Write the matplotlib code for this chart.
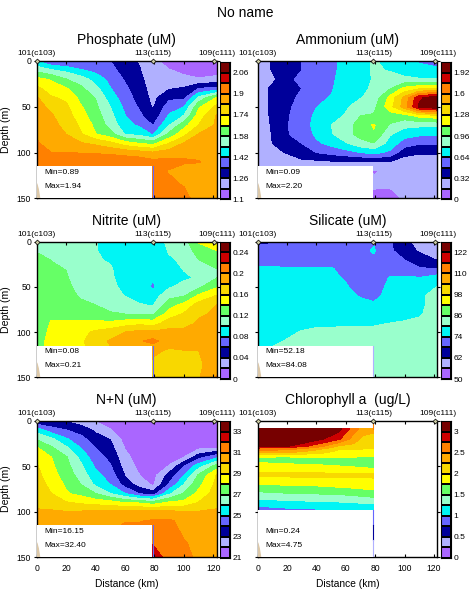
import matplotlib
matplotlib.use("Agg")
import matplotlib.pyplot as plt
import numpy as np
from matplotlib.patches import Rectangle

plt.rcParams["font.family"] = ["Liberation Sans", "DejaVu Sans"]

W, H = 473, 604

colors = ["#AA66FF", "#B0B0FF", "#00009A", "#6666FF", "#00F5F5", "#99FFCC", "#66FF66",
          "#FFFF00", "#F8D800", "#FFAA00", "#FF8000", "#CC0000", "#770000"]

stations = ["101(c103)", "113(c115)", "109(c111)"]
station_km = [0, 78.8, 120.5]
station_label_km = [0, 79, 122.6]

km = [0, 10, 20, 30, 40, 50, 60, 70, 79, 90, 100, 110, 122.5]
depth = [0, 10, 20, 30, 40, 50, 60, 70, 80, 90, 100, 110, 120, 135, 150]

# Each inner list is one distance, top to bottom, in colour band units
# (value = first level + step * band)

phosphate = [
    [4.0, 5.7, 7.3, 8.3, 9.1, 9.3, 9.4, 9.6, 9.9, 10.1, 10.2, 10.3, 10.3, 10.3, 10.3],
    [3.0, 5.1, 6.9, 7.4, 8.1, 8.8, 9.1, 9.2, 9.4, 9.6, 10.0, 10.4, 10.4, 10.4, 10.4],
    [2.9, 4.7, 6.05, 7.1, 7.8, 8.2, 8.5, 8.8, 9.0, 9.5, 10.0, 10.6, 10.6, 10.6, 10.6],
    [2.9, 4.1, 5.5, 6.2, 6.7, 7.1, 7.4, 7.8, 8.1, 9.1, 9.95, 10.7, 10.7, 10.7, 10.7],
    [3.0, 3.7, 4.6, 5.3, 5.95, 6.2, 6.5, 6.75, 7.05, 8.8, 9.9, 10.7, 10.7, 10.7, 10.7],
    [3.0, 3.3, 3.7, 4.05, 4.5, 5.0, 5.3, 5.6, 6.4, 8.3, 9.8, 10.7, 10.7, 10.7, 10.7],
    [2.4, 2.6, 2.9, 3.2, 3.45, 3.75, 4.05, 4.4, 4.95, 7.5, 9.6, 10.7, 10.7, 10.7, 10.7],
    [1.9, 2.05, 2.2, 2.4, 2.6, 2.85, 3.2, 3.8, 4.7, 7.0, 9.4, 10.6, 10.6, 10.6, 10.6],
    [1.3, 1.4, 1.5, 1.6, 1.7, 1.9, 2.3, 2.95, 3.9, 6.7, 9.1, 10.3, 10.2, 10.1, 10.2],
    [0.5, 1.05, 1.45, 1.9, 2.8, 3.5, 4.15, 4.95, 6.3, 8.0, 9.5, 10.3, 9.95, 10.15, 10.4],
    [0.3, 0.8, 1.2, 2.1, 2.75, 4.0, 5.05, 6.6, 7.7, 9.1, 9.8, 10.1, 9.7, 9.95, 10.3],
    [0.2, 0.5, 1.1, 3.0, 5.2, 6.8, 7.5, 8.0, 9.05, 9.4, 9.7, 10.05, 9.6, 9.5, 9.6],
    [0.2, 0.55, 1.3, 3.3, 7.1, 8.3, 9.1, 9.2, 9.3, 9.4, 9.5, 9.6, 9.5, 9.4, 9.4],
]

ammonium = [
    [1.5, 1.5, 1.5, 1.5, 1.5, 1.5, 1.5, 1.4, 1.4, 1.4, 1.3, 1.3, 1.2, 1.2, 1.2],
    [2.1, 2.05, 1.8, 2.2, 2.2, 2.2, 2.15, 2.1, 2.05, 2.0, 1.8, 1.5, 1.3, 1.2, 1.2],
    [2.6, 2.6, 2.7, 2.6, 2.7, 2.8, 2.9, 2.95, 2.95, 2.5, 2.05, 1.6, 1.4, 1.3, 1.2],
    [3.0, 3.0, 3.3, 3.0, 3.2, 3.4, 3.5, 3.4, 3.3, 3.0, 2.5, 1.8, 1.4, 1.3, 1.2],
    [3.5, 3.5, 3.5, 3.6, 3.8, 3.98, 4.2, 4.4, 4.2, 3.8, 3.0, 1.8, 1.3, 1.3, 1.2],
    [3.8, 3.8, 3.85, 3.9, 4.05, 4.3, 4.6, 5.0, 4.9, 4.3, 3.3, 1.9, 1.3, 1.3, 1.2],
    [4.3, 4.3, 4.4, 4.5, 4.7, 4.85, 5.1, 5.6, 5.6, 4.9, 3.6, 1.9, 1.3, 1.3, 1.2],
    [4.7, 4.7, 4.75, 4.85, 4.95, 5.5, 6.0, 6.4, 6.4, 5.6, 4.0, 1.9, 1.3, 1.2, 1.1],
    [5.1, 5.1, 5.05, 5.1, 5.3, 5.7, 6.1, 7.1, 6.9, 5.95, 4.3, 1.9, 0.95, 1.1, 0.8],
    [4.7, 4.95, 5.3, 5.9, 7.3, 7.6, 6.5, 5.9, 5.1, 4.6, 3.8, 1.95, 1.1, 1.05, 0.85],
    [4.2, 4.6, 5.2, 7.3, 9.3, 9.5, 6.5, 5.3, 4.4, 3.5, 2.3, 1.6, 1.3, 1.2, 1.05],
    [3.9, 4.3, 5.1, 7.8, 11.8, 12.2, 7.3, 5.2, 4.2, 3.1, 2.1, 1.5, 1.3, 1.3, 1.3],
    [3.6, 4.2, 5.05, 8.0, 12.7, 12.9, 7.6, 5.2, 4.1, 3.1, 2.2, 1.4, 1.3, 1.3, 1.3],
]

nitrite = [
    [5.6, 5.95, 6.2, 6.2, 6.2, 6.2, 6.2, 6.2, 6.2, 6.2, 6.3, 6.5, 6.6, 6.6, 6.6],
    [5.5, 5.7, 5.98, 6.1, 6.2, 6.3, 6.4, 6.6, 6.8, 7.1, 7.3, 7.4, 7.4, 7.4, 7.4],
    [5.3, 5.5, 5.75, 5.98, 6.1, 6.2, 6.3, 6.5, 6.8, 7.1, 7.4, 7.6, 7.6, 7.6, 7.6],
    [5.1, 5.1, 5.2, 5.3, 5.45, 5.7, 5.9, 6.2, 6.6, 7.2, 7.7, 7.8, 7.7, 7.7, 7.7],
    [5.05, 5.05, 5.1, 5.2, 5.3, 5.5, 5.75, 6.0, 6.5, 7.2, 8.2, 8.6, 8.5, 8.5, 8.5],
    [4.5, 4.7, 4.9, 5.1, 5.15, 5.25, 5.4, 5.7, 6.1, 7.2, 8.5, 9.1, 8.9, 8.9, 8.9],
    [4.3, 4.3, 4.4, 4.5, 4.6, 4.75, 4.97, 5.5, 6.0, 7.5, 9.0, 9.6, 9.4, 9.4, 9.4],
    [4.3, 4.2, 4.3, 4.35, 4.4, 4.55, 4.75, 5.05, 6.0, 7.7, 9.3, 9.9, 9.7, 9.7, 9.7],
    [4.3, 4.2, 4.15, 4.1, 4.05, 3.85, 4.5, 4.95, 5.9, 7.5, 9.2, 10.3, 9.2, 8.8, 8.6],
    [5.3, 5.1, 4.85, 4.6, 4.5, 4.9, 5.7, 6.6, 7.5, 8.5, 9.3, 9.4, 8.9, 8.1, 8.4],
    [5.6, 5.4, 5.2, 5.05, 4.85, 5.3, 5.95, 7.3, 8.1, 8.7, 9.2, 9.3, 9.0, 8.6, 8.5],
    [7.1, 6.4, 6.0, 5.5, 5.1, 5.8, 7.2, 8.4, 8.9, 9.1, 9.2, 9.2, 9.0, 8.9, 8.9],
    [8.0, 7.0, 6.5, 6.0, 6.0, 6.9, 8.1, 9.0, 9.1, 9.3, 9.3, 9.4, 9.3, 9.3, 10.1],
]

silicate = [
    [2.8, 3.3, 3.7, 4.1, 4.3, 4.4, 4.4, 4.5, 4.5, 4.6, 4.7, 4.8, 4.9, 4.9, 4.9],
    [2.9, 3.4, 3.7, 4.1, 4.2, 4.3, 4.4, 4.5, 4.5, 4.6, 4.7, 4.85, 5.1, 5.1, 5.1],
    [3.0, 3.4, 3.7, 4.05, 4.2, 4.3, 4.4, 4.5, 4.6, 4.7, 4.85, 5.05, 5.2, 5.2, 5.2],
    [3.0, 3.4, 3.7, 4.05, 4.2, 4.3, 4.4, 4.5, 4.6, 4.75, 5.05, 5.2, 5.2, 5.2, 5.2],
    [3.1, 3.4, 3.7, 4.05, 4.15, 4.25, 4.35, 4.5, 4.7, 4.95, 5.05, 5.2, 5.2, 5.2, 5.2],
    [3.2, 3.4, 3.7, 4.05, 4.1, 4.2, 4.3, 4.45, 4.65, 4.9, 5.1, 5.2, 5.2, 5.2, 5.2],
    [3.3, 3.4, 3.6, 3.8, 3.95, 4.05, 4.2, 4.4, 4.6, 4.95, 5.1, 5.2, 5.2, 5.2, 5.2],
    [3.4, 3.7, 3.5, 3.6, 3.7, 3.8, 3.95, 4.2, 4.5, 4.9, 5.15, 5.2, 5.2, 5.2, 5.2],
    [3.9, 4.1, 3.8, 3.6, 3.5, 3.6, 3.75, 4.15, 4.5, 4.9, 5.2, 5.2, 5.2, 5.2, 5.2],
    [3.1, 3.2, 3.4, 3.7, 4.05, 4.2, 4.3, 4.45, 4.6, 5.0, 5.2, 5.2, 5.2, 5.2, 5.2],
    [2.2, 2.4, 3.0, 3.6, 4.1, 4.25, 4.4, 4.55, 4.7, 5.1, 5.2, 5.2, 5.2, 5.2, 5.2],
    [1.7, 1.9, 2.4, 3.1, 4.05, 4.2, 4.9, 4.9, 4.95, 5.1, 5.2, 5.2, 5.2, 5.2, 5.2],
    [0.9, 1.3, 1.95, 3.0, 4.5, 5.05, 5.2, 5.2, 5.2, 5.2, 5.2, 5.2, 5.2, 5.2, 5.2],
]

nn = [
    [2.0, 4.5, 5.9, 7.1, 7.7, 8.1, 8.3, 8.5, 8.7, 8.9, 9.05, 9.2, 9.3, 9.3, 9.3],
    [2.1, 3.4, 5.2, 6.15, 7.0, 7.2, 7.4, 7.7, 8.0, 8.6, 9.1, 9.3, 9.3, 9.3, 9.3],
    [1.9, 3.0, 4.1, 5.2, 6.1, 6.3, 6.55, 6.85, 7.1, 8.1, 9.05, 9.4, 9.4, 9.4, 9.4],
    [1.5, 2.5, 3.35, 4.0, 4.7, 5.2, 5.6, 6.0, 6.7, 7.85, 9.1, 9.6, 9.6, 9.6, 9.6],
    [0.95, 1.8, 2.4, 3.0, 3.4, 3.85, 4.3, 4.8, 6.0, 7.6, 9.2, 9.7, 9.7, 9.7, 9.7],
    [0.5, 1.05, 1.95, 2.35, 2.75, 3.1, 3.55, 4.0, 5.0, 7.5, 9.3, 9.8, 9.8, 9.8, 9.8],
    [0.1, 0.3, 0.6, 0.95, 1.3, 1.6, 1.95, 2.6, 4.0, 7.0, 9.2, 9.95, 10.3, 10.3, 10.3],
    [0.1, 0.1, 0.2, 0.3, 0.5, 0.7, 1.0, 1.5, 2.9, 6.9, 9.3, 9.95, 10.3, 10.5, 10.6],
    [0.1, 0.1, 0.1, 0.2, 0.3, 0.4, 0.6, 0.85, 2.5, 6.5, 9.3, 10.1, 10.4, 10.97, 11.4],
    [0.1, 0.1, 0.2, 0.4, 0.7, 1.05, 2.4, 3.1, 4.8, 7.2, 9.2, 10.2, 10.4, 10.6, 10.7],
    [0.1, 0.2, 0.4, 0.7, 1.0, 3.0, 4.0, 5.0, 6.05, 7.3, 9.1, 9.6, 9.8, 10.1, 10.3],
    [0.1, 0.2, 0.4, 0.8, 2.6, 4.6, 6.15, 6.7, 7.3, 8.05, 9.05, 9.3, 9.5, 9.7, 9.8],
    [0.1, 0.2, 0.4, 1.0, 3.75, 6.5, 8.1, 8.3, 8.5, 8.8, 9.1, 9.3, 9.4, 9.5, 9.5],
]

chl_km = [0, 20, 40, 55, 65, 72, 79]
chl_depth = [9, 20, 28, 30, 32, 34, 36, 38, 42, 46, 50, 57, 59, 61, 65, 70, 74, 78, 82, 86, 90, 94, 98]

chl = [
    [13, 12.6, 12.0, 11, 10.2, 9.5, 8.5, 7.5, 6.5, 7.0, 7.5, 8.0, 8.4, 8.0, 7.5, 7.0, 6.5, 6.0, 5.5, 5.0, 4.5, 4.0, 3.5],
    [13, 12.8, 12.1, 10.8, 10, 9.5, 8.6, 7.4, 6.5, 6.8, 7.4, 7.98, 8.3, 8.1, 7.6, 7.1, 6.6, 6.2, 5.7, 5.2, 4.7, 4.2, 3.8],
    [13, 12.4, 10.5, 9.7, 9.0, 8.5, 8.1, 7.5, 6.7, 6.6, 7.3, 7.95, 8.3, 8.1, 7.7, 7.2, 6.7, 6.3, 5.8, 5.35, 4.8, 4.3, 3.9],
    [12.4, 11.2, 8.9, 8.4, 8.0, 7.8, 7.5, 7.3, 6.7, 6.4, 7.05, 7.9, 8.2, 8.1, 7.7, 7.3, 6.9, 6.4, 5.9, 5.4, 4.9, 4.4, 4.1],
    [10.5, 9.6, 8.7, 8.3, 8.0, 7.7, 7.5, 7.3, 6.7, 6.4, 6.9, 7.8, 8.2, 8.1, 7.8, 7.4, 7.0, 6.6, 6.0, 5.5, 5.0, 4.5, 4.1],
    [9.6, 8.7, 8.2, 8.1, 7.9, 7.7, 7.5, 7.2, 6.7, 6.3, 6.8, 7.7, 8.1, 8.1, 7.8, 7.5, 7.1, 6.7, 6.2, 5.6, 5.1, 4.6, 4.2],
    [9.4, 8.4, 8.2, 8.1, 7.9, 7.7, 7.4, 7.1, 6.6, 6.1, 6.6, 7.7, 8.1, 8.1, 7.9, 7.6, 7.2, 6.8, 6.3, 5.7, 5.1, 4.6, 4.2],
]

titles = ["Phosphate (uM)", "Ammonium (uM)", "Nitrite (uM)", "Silicate (uM)", "N+N (uM)", "Chlorophyll a  (ug/L)"]
grids = [phosphate, ammonium, nitrite, silicate, nn, chl]
base = [1.1, 0, 0, 50, 21, 0]
step = [0.08, 0.16, 0.02, 6, 1, 0.25]
mins = ["0.89", "0.09", "0.08", "52.18", "16.15", "0.24"]
maxs = ["1.94", "2.20", "0.21", "84.08", "32.40", "4.75"]
cbar_labels = [
    ["1.1", "1.26", "1.42", "1.58", "1.74", "1.9", "2.06"],
    ["0", "0.32", "0.64", "0.96", "1.28", "1.6", "1.92"],
    ["0", "0.04", "0.08", "0.12", "0.16", "0.2", "0.24"],
    ["50", "62", "74", "86", "98", "110", "122"],
    ["21", "23", "25", "27", "29", "31", "33"],
    ["0", "0.5", "1", "1.5", "2", "2.5", "3"],
]

# thin coloured line on the middle station, below the data
strip_band = [3, None, 3, 1, 3, None]


def pixel_axes(fig, x0, y0, x1, y1):
    return fig.add_axes([x0 / W, 1 - y1 / H, (x1 - x0) / W, (y1 - y0) / H])


fig = plt.figure(figsize=(W / 100, H / 100), dpi=100)
fig.text(245 / W, 1 - 13 / H, "No name", ha="center", va="center", fontsize=10)

rows = [(61, 198.3), (241.7, 377.3), (420.7, 557.3)]
cbar_rows = [(62.3, 199.3), (241.7, 379), (421.3, 558)]
cols = [(36.7, 216.7), (257.7, 437.3)]
cbar_cols = [(220.3, 229.7), (441.3, 450.7)]

for i in range(6):
    r, c = i // 2, i % 2
    ax = pixel_axes(fig, cols[c][0], rows[r][0], cols[c][1], rows[r][1])
    levels = base[i] + step[i] * np.arange(14)
    values = base[i] + step[i] * np.array(grids[i], dtype=float).T
    if i == 5:
        xs, ys = chl_km, chl_depth
    else:
        xs, ys = km, depth
    ax.contourf(xs, ys, values, levels=levels, colors=colors, antialiased=False, extend="neither")

    ax.set_xlim(0, 122.3)
    ax.set_ylim(150, 0)
    ax.set_xticks(range(0, 121, 20))
    ax.set_yticks([0, 50, 100, 150])
    ax.tick_params(axis="x", direction="in", length=2, top=True, labelsize=6.2, pad=5)
    ax.tick_params(axis="y", direction="out", length=2, right=True, labelsize=6.2, pad=2)
    if r < 2:
        ax.set_xticklabels([])
    else:
        ax.set_xlabel("Distance (km)", fontsize=7.4, labelpad=4)
    if c == 0:
        ax.set_ylabel("Depth (m)", fontsize=7.6)
        ax.yaxis.set_label_coords(-0.145, 0.5)
    else:
        ax.set_yticklabels([])
    for s in ax.spines.values():
        s.set_linewidth(1)

    # white box holding the min/max text
    box_top = 115 if i < 5 else 98
    ax.add_patch(Rectangle((0, box_top), 78.5, 150 - box_top, fc="white", ec="none", zorder=3))
    if strip_band[i] is not None:
        ax.plot([78.8, 78.8], [box_top, 150], color=colors[strip_band[i]], lw=0.8, zorder=4)
    if i == 5:
        ax.plot([78.8, 78.8], [98, 114], color=colors[3], lw=0.8, zorder=4)
        ax.plot([78.8, 78.8], [114, 131], color=colors[2], lw=0.8, zorder=4)
        ax.plot([78.8, 78.8], [131, 150], color=colors[1], lw=0.8, zorder=4)
        ax.plot([78.8, 78.8], [1, 9], color=colors[10], lw=0.8, zorder=4)
    ax.fill([0, 1.0, 2, 0], [134, 140, 150, 150], color="#DCC8A8", zorder=5)
    ax.text(5, 122, "Min=" + mins[i], fontsize=6, va="center", zorder=6)
    ax.text(5, 137, "Max=" + maxs[i], fontsize=6, va="center", zorder=6)

    # station markers and names
    ax.plot(station_km, [0, 0, 0], ls="none", marker="D", ms=2.5, mfc="#C8C8A0", mec="k", mew=0.5, clip_on=False, zorder=7)
    for name, k in zip(stations, station_label_km):
        ax.text(k, -4, name, fontsize=6.1, ha="center", va="bottom", clip_on=False)
    ax.set_title(titles[i], fontsize=10, pad=12)

    # colour bar
    cax = pixel_axes(fig, cbar_cols[c][0], cbar_rows[r][0], cbar_cols[c][1], cbar_rows[r][1])
    cax.pcolormesh([0, 1], np.arange(14), np.arange(13).reshape(-1, 1), cmap=matplotlib.colors.ListedColormap(colors),
                   edgecolors="k", linewidth=0.3)
    cax.set_xticks([])
    cax.yaxis.tick_right()
    cax.set_yticks(np.arange(0, 13, 2))
    cax.set_yticklabels(cbar_labels[i], fontsize=6)
    cax.tick_params(axis="y", length=0, pad=2)

fig.savefig("out.png", dpi=100)
